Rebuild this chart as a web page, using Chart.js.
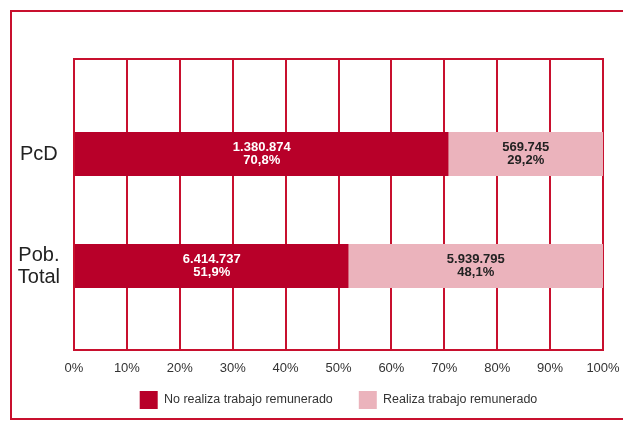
<!DOCTYPE html>
<html>
<head>
<meta charset="utf-8">
<script src="https://cdn.jsdelivr.net/npm/chart.js@4"></script>
<style>
    body { margin: 0; background: #fff; }
    #wrap { position: relative; width: 623px; height: 421px; overflow: hidden; }
    #frame {
        position: absolute; left: 10px; top: 10px; width: 700px; height: 410px;
        border: 2.5px solid #c8102e; box-sizing: border-box;
    }
    #chartBox { position: absolute; left: 0; top: 0; width: 623px; height: 421px; }
</style>
</head>
<body>
<div id="wrap">
    <div id="frame"></div>
    <div id="chartBox"><canvas id="workChart"></canvas></div>
</div>
<script>
// Categories and series values
const categories = ["PcD", ["Pob.", "Total"]];
const seriesNames = ["No realiza trabajo remunerado", "Realiza trabajo remunerado"];
const noWorkPct = [70.8, 51.9];
const workPct = [29.2, 48.1];
const noWorkCount = ["1.380.874", "6.414.737"];
const workCount = ["569.745", "5.939.795"];
const xTicks = [0, 10, 20, 30, 40, 50, 60, 70, 80, 90, 100];

const RED = "#c8102e";
const DARK = "#b80029";
const PINK = "#ebb3bc";
const FONT = "'Liberation Sans', Arial, sans-serif";

// Draw count + percent inside each bar segment
const barLabels = {
    id: "barLabels",
    afterDatasetsDraw(chart) {
        const ctx = chart.ctx;
        ctx.save();
        ctx.font = "bold 13px " + FONT;
        ctx.textAlign = "center";
        ctx.textBaseline = "middle";
        chart.data.datasets.forEach((ds, di) => {
            const meta = chart.getDatasetMeta(di);
            meta.data.forEach((bar, i) => {
                const cx = (bar.x + bar.base) / 2;
                const pct = ds.data[i].toFixed(1).replace(".", ",") + "%";
                ctx.fillStyle = di === 0 ? "#ffffff" : "#222222";
                ctx.fillText(ds.counts[i], cx, bar.y - 6.5);
                ctx.fillText(pct, cx, bar.y + 6.5);
            });
        });
        ctx.restore();
    }
};

// Top and bottom edges of the grid box
const gridBox = {
    id: "gridBox",
    beforeDatasetsDraw(chart) {
        const x = chart.scales.x;
        const top = chart.scales.x2.top;
        const bottom = x.top + x.options.grid.tickLength;
        const ctx = chart.ctx;
        ctx.save();
        ctx.strokeStyle = RED;
        ctx.lineWidth = 2;
        ctx.beginPath();
        ctx.moveTo(x.left - 1, top + 1);
        ctx.lineTo(x.right + 1, top + 1);
        ctx.moveTo(x.left - 1, bottom - 1);
        ctx.lineTo(x.right + 1, bottom - 1);
        ctx.stroke();
        ctx.restore();
    }
};

// Pull the legend row up closer to the axis labels
const legendNudge = {
    id: "legendNudge",
    afterLayout(chart) {
        chart.legend.top -= 10;
        chart.legend.bottom -= 10;
    }
};

const ctx = document.getElementById("workChart").getContext("2d");
new Chart(ctx, {
    type: "bar",
    data: {
        labels: categories,
        datasets: [
            {
                label: seriesNames[0],
                data: noWorkPct,
                counts: noWorkCount,
                backgroundColor: DARK,
                barPercentage: 0.393,
                categoryPercentage: 1,
            },
            {
                label: seriesNames[1],
                data: workPct,
                counts: workCount,
                backgroundColor: PINK,
                barPercentage: 0.393,
                categoryPercentage: 1,
            },
        ],
    },
    options: {
        indexAxis: "y",
        responsive: true,
        maintainAspectRatio: false,
        animation: false,
        layout: { padding: { top: 58, right: 20, left: 4, bottom: 0 } },
        scales: {
            x: {
                type: "linear",
                position: "bottom",
                stacked: true,
                min: 0,
                max: 100,
                afterBuildTicks: (s) => { s.ticks = xTicks.map((v) => ({ value: v })); },
                afterFit: (s) => { s.paddingLeft = 0; s.paddingRight = 0; s.height = 53; },
                ticks: {
                    padding: 11,
                    color: "#333",
                    font: { family: FONT, size: 13, lineHeight: 1 },
                    callback: (v) => v + "%",
                },
                grid: { color: RED, lineWidth: 2, tickLength: 29 },
                border: { display: false },
            },
            x2: {
                type: "linear",
                axis: "x",
                position: "top",
                min: 0,
                max: 100,
                afterBuildTicks: (s) => { s.ticks = xTicks.map((v) => ({ value: v })); },
                ticks: { display: false },
                grid: { color: RED, lineWidth: 2, tickLength: 40, drawOnChartArea: false },
                border: { display: false },
            },
            y: {
                stacked: true,
                offset: true,
                afterFit: (s) => { s.width = 70; },
                ticks: {
                    crossAlign: "center",
                    padding: 6,
                    color: "#222",
                    font: { family: FONT, size: 20, lineHeight: 1.1 },
                },
                grid: { display: false },
                border: { display: false },
            },
        },
        plugins: {
            legend: {
                position: "bottom",
                fullSize: false,
                maxHeight: 46,
                labels: {
                    boxWidth: 18,
                    boxHeight: 18,
                    padding: 26,
                    color: "#333",
                    font: { family: FONT, size: 12.5 },
                },
            },
            tooltip: { enabled: false },
        },
    },
    plugins: [barLabels, gridBox, legendNudge],
});
</script>
</body>
</html>
